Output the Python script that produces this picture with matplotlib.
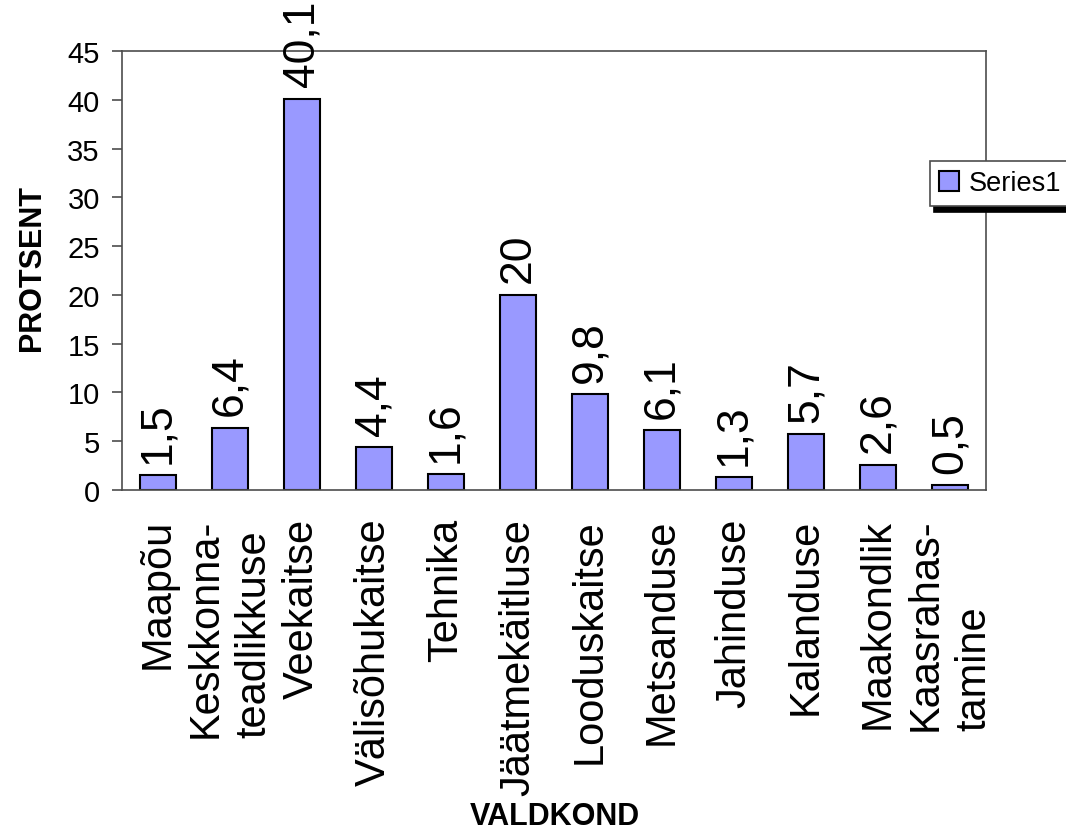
import matplotlib.pyplot as plt
from matplotlib.patches import Patch

# Data
categories = ["Maapõu", "Keskkonna-\nteadlikkuse", "Veekaitse", "Välisõhukaitse",
              "Tehnika", "Jäätmekäitluse", "Looduskaitse", "Metsanduse",
              "Jahinduse", "Kalanduse", "Maakondlik", "Kaasrahas-\ntamine"]
values = [1.5, 6.4, 40.1, 4.4, 1.6, 20, 9.8, 6.1, 1.3, 5.7, 2.6, 0.5]
yticks = [0, 5, 10, 15, 20, 25, 30, 35, 40, 45]

plt.rcParams['font.family'] = ['Liberation Sans', 'DejaVu Sans']

fig = plt.figure(figsize=(10.66, 8.37), dpi=100)
ax = fig.add_axes([122 / 1066, 1 - 491 / 837, 864 / 1066, 439 / 837])

x = list(range(len(categories)))
bars = ax.bar(x, values, width=0.5, color="#9999FF", edgecolor="black", linewidth=1.5,
              label="Series1", zorder=2)

# value labels, comma as decimal sign
for xi, v in zip(x, values):
    txt = f"{v:g}".replace(".", ",")
    ax.annotate(txt, (xi, v), xytext=(0, 9), textcoords="offset points",
                rotation=90, ha="center", va="bottom", fontsize=32, clip_on=False)

ax.set_xlim(-0.5, len(categories) - 0.5)
ax.set_ylim(0, 45)
ax.set_yticks(yticks)
ax.set_xticks(x)
ax.set_xticklabels(categories, rotation=90, fontsize=30, multialignment="left",
                   linespacing=1.3)
ax.tick_params(axis="x", length=0, pad=20)
ax.tick_params(axis="y", length=7, width=1.2, direction="out", labelsize=21, pad=9,
               color="0.3")

for s in ax.spines.values():
    s.set_color("0.3")
    s.set_linewidth(1.2)

fig.text(32 / 1066, 1 - 268 / 837, "PROTSENT", rotation=90, ha="center", va="center",
         fontsize=22, fontweight="bold")
fig.text(555 / 1066, 1 - 817 / 837, "VALDKOND", ha="center", va="center",
         fontsize=22, fontweight="bold")

handle = Patch(facecolor="#9999FF", edgecolor="black", linewidth=1.5)
leg = fig.legend([handle], ["Series1"], loc="upper left",
                 bbox_to_anchor=(930 / 1066, 1 - 162 / 837), fontsize=19.5,
                 fancybox=False, shadow={"color": "black", "alpha": 1, "ox": 3, "oy": -4.5},
                 framealpha=1, edgecolor="0.3", borderpad=0.35, handlelength=0.72,
                 handleheight=0.72, handletextpad=0.35, borderaxespad=0)
leg.get_frame().set_linewidth(1.2)

fig.savefig("out.png", dpi=100)
